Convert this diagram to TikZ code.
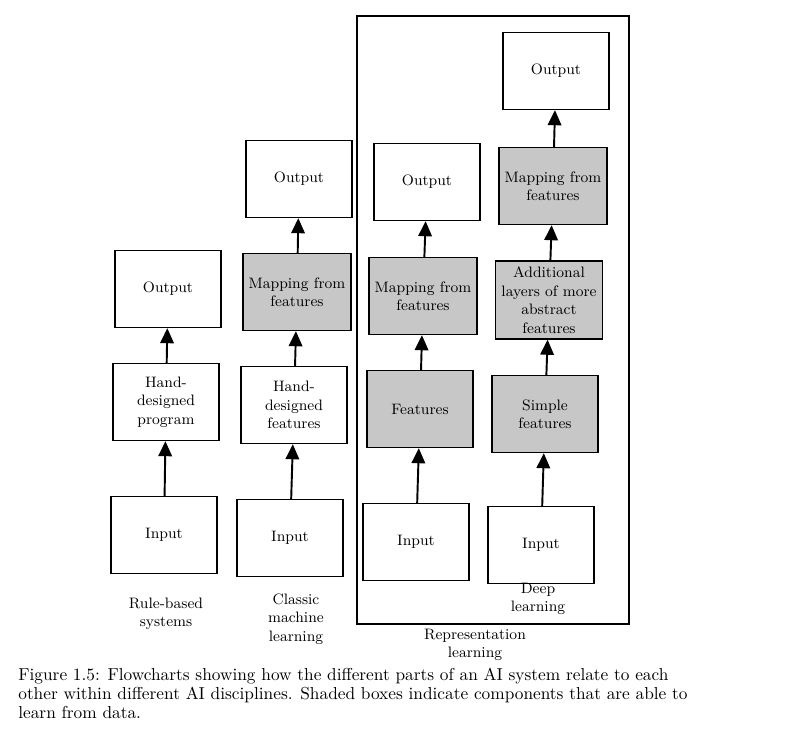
\documentclass[tikz,border=0pt]{standalone}
\usepackage{amsmath,amsfonts,amssymb}
\usepackage{tikz}
\usetikzlibrary{arrows.meta}

\begin{document}
\begin{tikzpicture}[x=0.02cm, y=-0.02cm,
		box_style/.style={rectangle,draw=black,line width=0.8pt,fill=white,minimum width=2.12cm,minimum height=1.54cm,align=center,font=\fontsize{8.6}{10.5}\selectfont},
		shaded_style/.style={box_style,fill=black!22},
		label_style/.style={align=center,font=\fontsize{8.6}{10.5}\selectfont},
		edge_style/.style={draw=black,line width=1.1pt,-{Triangle[length=3mm,width=2.7mm]}}]

		\useasboundingbox (0,0) rectangle (787,734);

		% representation learning frame
		\draw[line width=0.8pt] (357,16) rectangle (629,624);

		% rule-based systems
		\node[box_style] (out1) at (168,289) {Output};
		\node[box_style] (prog1) at (166,402) {Hand-\\designed\\program};
		\node[box_style] (in1) at (164,535) {Input};

		% classic machine learning
		\node[box_style] (out2) at (299,179) {Output};
		\node[shaded_style] (map2) at (297,292) {Mapping from\\features};
		\node[box_style] (feat2) at (294,405) {Hand-\\designed\\features};
		\node[box_style] (in2) at (290,538) {Input};

		% representation learning
		\node[box_style] (out3) at (427,182) {Output};
		\node[shaded_style] (map3) at (423,296) {Mapping from\\features};
		\node[shaded_style] (feat3) at (420,409) {Features};
		\node[box_style] (in3) at (416,542) {Input};

		% deep learning
		\node[box_style] (out4) at (556,71) {Output};
		\node[shaded_style] (map4) at (553,186) {Mapping from\\features};
		\node[shaded_style] (layer4) at (549,300) {Additional\\layers of more\\abstract\\features};
		\node[shaded_style] (simple4) at (545,414) {Simple\\features};
		\node[box_style] (in4) at (541,545) {Input};

		% labels
		\node[label_style] (rule) at (166,614) {Rule-based\\systems};
		\node[label_style] (classic) at (296,619) {Classic\\machine\\learning};
		\node[label_style] (deep) at (538,599) {Deep\\learning};
		\node[label_style] (repr) at (475,645) {Representation\\learning};

		\node[anchor=north west,align=left,font=\fontsize{9.85}{10.8}\selectfont,inner sep=0pt] (caption) at (18,668)
			{Figure 1.5: Flowcharts showing how the different parts of an AI system relate to each\\
			other within different AI disciplines. Shaded boxes indicate components that are able to\\
			learn from data.};

		\draw[edge_style] (in1) edge (prog1);
		\draw[edge_style] (prog1) edge (out1);
		\draw[edge_style] (in2) edge (feat2);
		\draw[edge_style] (feat2) edge (map2);
		\draw[edge_style] (map2) edge (out2);
		\draw[edge_style] (in3) edge (feat3);
		\draw[edge_style] (feat3) edge (map3);
		\draw[edge_style] (map3) edge (out3);
		\draw[edge_style] (in4) edge (simple4);
		\draw[edge_style] (simple4) edge (layer4);
		\draw[edge_style] (layer4) edge (map4);
		\draw[edge_style] (map4) edge (out4);

		\end{tikzpicture}
\end{document}
